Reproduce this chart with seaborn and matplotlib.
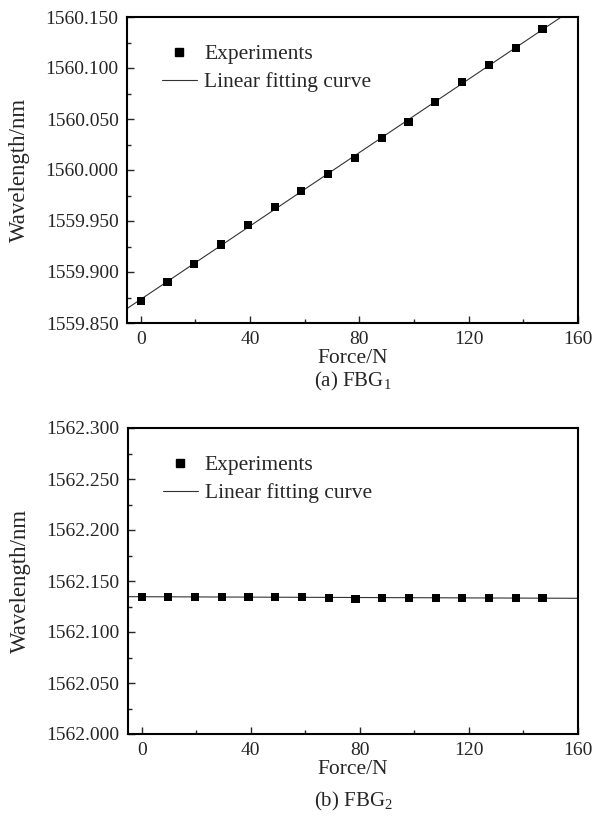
import numpy as np
import pandas as pd
import matplotlib
matplotlib.use("Agg")
import matplotlib.pyplot as plt
from matplotlib.ticker import MultipleLocator, FormatStrFormatter
from matplotlib.lines import Line2D
import seaborn as sns

force = [0, 9.8, 19.6, 29.4, 39.2, 49.0, 58.8, 68.6, 78.4, 88.2, 98.0, 107.8, 117.6, 127.4, 137.2, 147.0]
fbg1 = [1559.872, 1559.890, 1559.908, 1559.927, 1559.946, 1559.964, 1559.979, 1559.996,
        1560.012, 1560.031, 1560.047, 1560.067, 1560.086, 1560.103, 1560.120, 1560.138]
fbg2 = [1562.1345, 1562.1345, 1562.1345, 1562.1345, 1562.1345, 1562.1345, 1562.1345, 1562.1335,
        1562.1325, 1562.1335, 1562.1335, 1562.1335, 1562.1335, 1562.1335, 1562.1335, 1562.1335]
x_ticks = [0, 40, 80, 120, 160]
captions = ["(a) FBG$_1$", "(b) FBG$_2$"]
ylims = [(1559.850, 1560.150), (1562.000, 1562.300)]

sns.set_theme(style="ticks")
plt.rcParams["font.family"] = ["Liberation Serif", "DejaVu Serif"]
plt.rcParams["mathtext.default"] = "regular"
plt.rcParams["xtick.direction"] = "in"
plt.rcParams["ytick.direction"] = "in"

fig = plt.figure(figsize=(5.94, 8.25), dpi=100)
axes_pos = [[127/594, 1-323/825, 451/594, 306/825],
            [128/594, 1-734/825, 450/594, 306/825]]
caption_y = [1-381/825, 1-801/825]

for i, (vals, cap, yl) in enumerate(zip([fbg1, fbg2], captions, ylims)):
    ax = fig.add_axes(axes_pos[i])
    df = pd.DataFrame({"Force": force, "Wavelength": vals})
    ax.set_xlim(-5, 160)
    ax.set_ylim(*yl)
    sns.regplot(data=df, x="Force", y="Wavelength", ax=ax, scatter=False, ci=None,
                truncate=False, color="#333333", line_kws={"linewidth": 0.8})
    sns.scatterplot(data=df, x="Force", y="Wavelength", ax=ax, marker="s", s=34,
                    color="black", edgecolor="none", zorder=3)
    ax.set_xlim(-5, 160)
    ax.set_ylim(*yl)
    ax.set_xticks(x_ticks)
    ax.xaxis.set_minor_locator(MultipleLocator(20))
    ax.yaxis.set_major_locator(MultipleLocator(0.05))
    ax.yaxis.set_minor_locator(MultipleLocator(0.025))
    ax.yaxis.set_major_formatter(FormatStrFormatter("%.3f"))
    ax.tick_params(axis="both", which="major", labelsize=14, length=5, width=1,
                   top=False, right=False, pad=6)
    ax.tick_params(axis="both", which="minor", length=3, width=1, top=False, right=False)
    for sp in ax.spines.values():
        sp.set_linewidth(1.5)
        sp.set_color("black")
    ax.set_xlabel("Force/N", fontsize=15.5)
    ax.xaxis.label.set_va("center")
    ax.xaxis.set_label_coords(0.5, -35/306)
    ax.set_ylabel("Wavelength/nm", fontsize=16.5)
    ax.yaxis.label.set_va("center")
    ax.yaxis.set_label_coords(-108/451, 0.5)
    handles = [Line2D([], [], marker="s", color="black", linestyle="none", markersize=5.8),
               Line2D([], [], color="#333333", linewidth=0.8)]
    ax.legend(handles, ["Experiments", "Linear fitting curve"], loc="upper left",
              bbox_to_anchor=(0.058, 0.94), frameon=False, fontsize=15.5,
              handlelength=1.63, handletextpad=0.33, labelspacing=0.37, borderaxespad=0)
    fig.text(353/594, caption_y[i], cap, ha="center", va="center", fontsize=15)

fig.savefig("out.png", dpi=100)
